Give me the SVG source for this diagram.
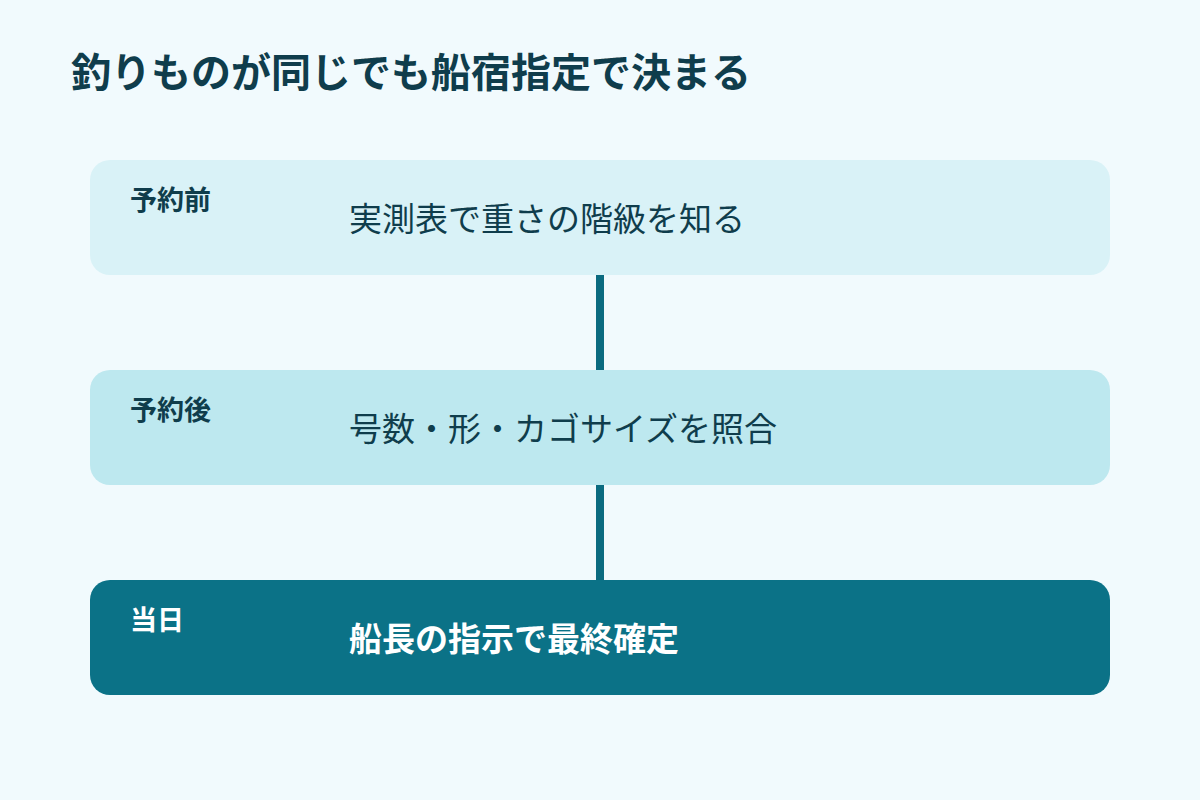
<svg xmlns="http://www.w3.org/2000/svg" width="1200" height="800" viewBox="0 0 1200 800">
<style>
.t{font-family:"Noto Sans CJK JP","Noto Sans",sans-serif;}
.title{font-size:40px;font-weight:700;fill:#0f3d4c;}
.lab{font-size:27px;font-weight:700;fill:#0f3d4c;}
.main{font-size:33px;font-weight:400;fill:#0f3d4c;}
.labw{font-size:27px;font-weight:700;fill:#ffffff;}
.mainw{font-size:33px;font-weight:700;fill:#ffffff;}
.conn{stroke:#0b6b80;stroke-width:8;}
</style>
<rect width="1200" height="800" fill="#f1fafd"/>
<text class="t title" x="71" y="87">釣りものが同じでも船宿指定で決まる</text>
<g id="connectors">
<line class="conn" x1="600" y1="275" x2="600" y2="370"/>
<line class="conn" x1="600" y1="485" x2="600" y2="580"/>
</g>
<g id="node1">
<rect x="90" y="160" width="1020" height="115" rx="20" fill="#d9f2f7"/>
<text class="t lab" x="130" y="210">予約前</text>
<text class="t main" x="349" y="231">実測表で重さの階級を知る</text>
</g>
<g id="node2">
<rect x="90" y="370" width="1020" height="115" rx="20" fill="#bde8ef"/>
<text class="t lab" x="130" y="420">予約後</text>
<text class="t main" x="349" y="441">号数・形・カゴサイズを照合</text>
</g>
<g id="node3">
<rect x="90" y="580" width="1020" height="115" rx="20" fill="#0b7287"/>
<text class="t labw" x="130" y="630">当日</text>
<text class="t mainw" x="349" y="651">船長の指示で最終確定</text>
</g>
</svg>
